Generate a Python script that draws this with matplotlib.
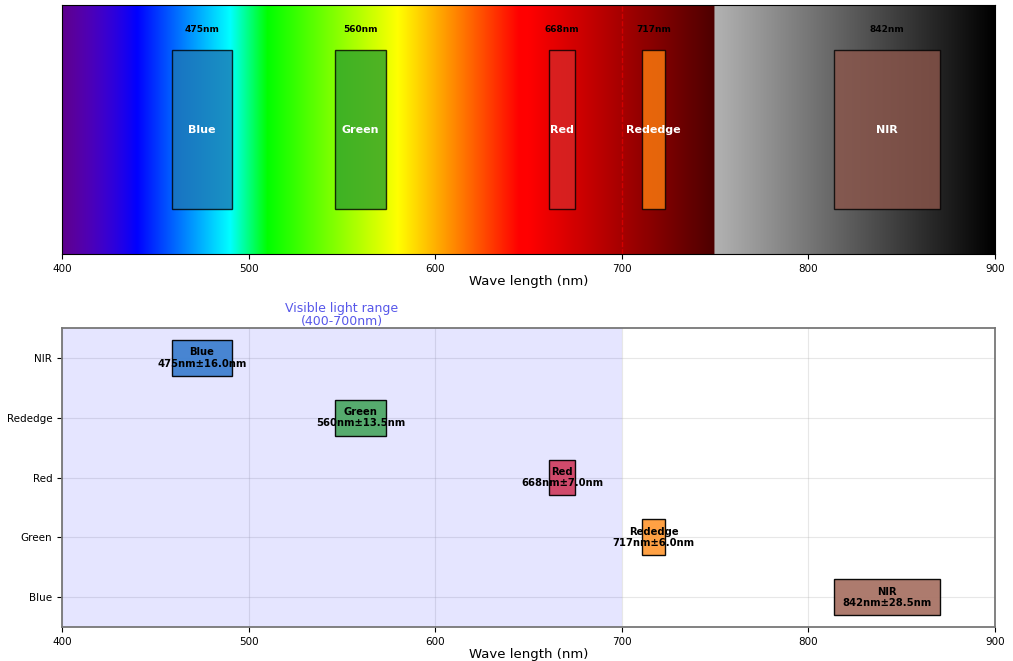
import numpy as np
import matplotlib.pyplot as plt
from matplotlib.patches import Rectangle

bands = ["Blue", "Green", "Red", "Rededge", "NIR"]
centers = [475, 560, 668, 717, 842]
half_widths = [16.0, 13.5, 7.0, 6.0, 28.5]
ytick_labels = ["Blue", "Green", "Red", "Rededge", "NIR"]

top_colors = ["#1f77b4", "#2ca02c", "#d62728", "#ff7f0e", "#8c564b"]
bottom_colors = ["#3f80d0", "#4ea866", "#cf4263", "#ff9c3a", "#a97466"]


def wavelength_to_rgb(w):
    # visible part: piecewise spectrum, infrared part: gray fading to black
    if w >= 750:
        g = 0.7 * (900 - w) / 150
        return (g, g, g)
    if w < 440:
        r, gr, b = -(w - 440) / 60, 0.0, 1.0
    elif w < 490:
        r, gr, b = 0.0, (w - 440) / 50, 1.0
    elif w < 510:
        r, gr, b = 0.0, 1.0, -(w - 510) / 20
    elif w < 580:
        r, gr, b = (w - 510) / 70, 1.0, 0.0
    elif w < 645:
        r, gr, b = 1.0, -(w - 645) / 65, 0.0
    else:
        r, gr, b = 1.0, 0.0, 0.0
    if w < 440:
        f = 0.55 + 0.45 * (w - 400) / 40
    elif w > 650:
        f = 0.3 + 0.7 * (750 - w) / 100
    else:
        f = 1.0
    return (r * f, gr * f, b * f)


fig = plt.figure(figsize=(10.13, 6.61), dpi=100)
ax1 = fig.add_axes([0.0612, 0.6157, 0.921, 0.3767])
ax2 = fig.add_axes([0.0612, 0.0514, 0.921, 0.4523])

# spectrum strip
wl = np.linspace(400, 900, 1001)
strip = np.array([wavelength_to_rgb(w) for w in wl])[np.newaxis, :, :]
ax1.imshow(strip, extent=[400, 900, 0, 1], aspect="auto", interpolation="bilinear")
ax1.axvline(700, color="red", linestyle="--", linewidth=1, alpha=0.5)

for name, c, hw, col in zip(bands, centers, half_widths, top_colors):
    ax1.add_patch(Rectangle((c - hw, 0.18), 2 * hw, 0.64, facecolor=col,
                            edgecolor="black", alpha=0.8, linewidth=1))
    ax1.text(c, 0.5, name, ha="center", va="center", color="white",
             fontsize=8, fontweight="bold")
    ax1.text(c, 0.9, f"{c}nm", ha="center", va="center", color="black",
             fontsize=6.5, fontweight="bold")

ax1.set_xlim(400, 900)
ax1.set_ylim(0, 1)
ax1.set_yticks([])
ax1.set_xticks([400, 500, 600, 700, 800, 900])
ax1.tick_params(axis="x", labelsize=7.5)
ax1.set_xlabel("Wave length (nm)", fontsize=9.5, labelpad=1)

# band widths
ax2.axvspan(400, 700, color="blue", alpha=0.1, linewidth=0)
ax2.text(550, 4.5, "Visible light range\n(400-700nm)", ha="center", va="bottom",
         color="#3a3ae6", fontsize=9, alpha=0.85, linespacing=1.0)
for i, (name, c, hw, col) in enumerate(zip(bands, centers, half_widths, bottom_colors)):
    y = len(bands) - 1 - i
    ax2.barh(y, 2 * hw, left=c - hw, height=0.6, color=col, edgecolor="black",
             linewidth=1, alpha=0.95)
    ax2.text(c, y, f"{name}\n{c}nm±{hw}nm", ha="center", va="center",
             fontsize=7.2, fontweight="bold", color="black", linespacing=1.15)

ax2.set_xlim(400, 900)
ax2.set_ylim(-0.5, 4.5)
ax2.set_yticks(range(len(ytick_labels)))
ax2.set_yticklabels(ytick_labels)
ax2.set_xticks([400, 500, 600, 700, 800, 900])
ax2.tick_params(labelsize=7.5)
ax2.grid(True, alpha=0.3)
ax2.set_axisbelow(True)
ax2.set_xlabel("Wave length (nm)", fontsize=9.5, labelpad=1)
for s in ax2.spines.values():
    s.set_color("#777777")
    s.set_linewidth(1.3)

fig.savefig("out.png", dpi=100)
